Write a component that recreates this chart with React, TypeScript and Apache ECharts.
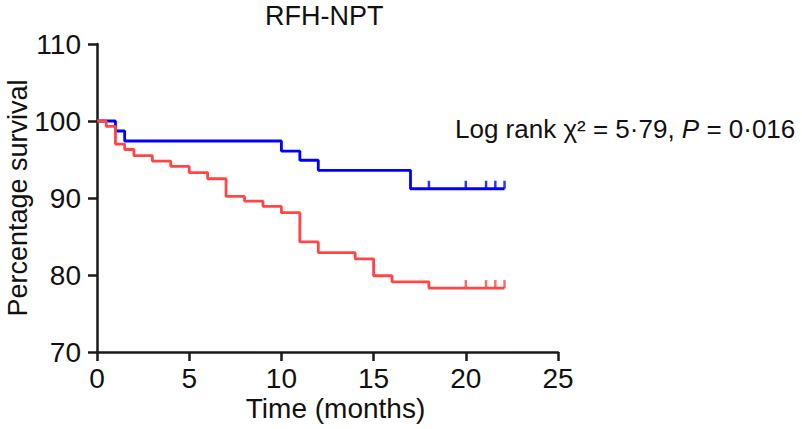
import React, { useEffect, useRef } from "react";
import * as echarts from "echarts";

const titleText = "RFH-NPT";
const xAxisName = "Time (months)";
const yAxisName = "Percentage survival";

const xTicks = [0, 5, 10, 15, 20, 25];
const yTicks = [70, 80, 90, 100, 110];

const blueTimes = [0, 1, 1.5, 10, 11, 12, 17, 22.1];
const blueSurv = [100, 98.7, 97.4, 96.1, 94.9, 93.6, 91.2, 91.2];
const blueCensorTimes = [18, 20, 21.1, 21.6, 22.1];
const blueCensorSurv = [91.2, 91.2, 91.2, 91.2, 91.2];

const redTimes = [0, 0.5, 1, 1.5, 2, 3, 4, 5, 6, 7, 8, 9, 10, 11, 12, 14, 15, 16, 18, 22.1];
const redSurv = [100, 99.3, 97.0, 96.3, 95.5, 94.8, 94.1, 93.3, 92.5, 90.2, 89.6, 88.9, 88.1, 84.3, 82.9, 82.1, 79.9, 79.1, 78.3, 78.3];
const redCensorTimes = [20, 21.1, 21.6, 22.1];
const redCensorSurv = [78.3, 78.3, 78.3, 78.3];

const BLUE = "#0000FF";
const RED = "#FF4545";
const AXIS = "#1a1a1a";
const TEXT = "#111111";
const FONT = "'Liberation Sans', Arial, sans-serif";

const zip = (a: number[], b: number[]) => a.map((v, i) => [v, b[i]]);

export default function App() {
  const ref = useRef<HTMLDivElement>(null);
  useEffect(() => {
    if (!ref.current) return;
    const chart = echarts.init(ref.current, undefined, { renderer: "svg" });
    const censor = (name: string, data: number[][], color: string) => ({
      name,
      type: "scatter",
      data,
      symbol: "rect",
      symbolSize: [2.5, 8],
      symbolOffset: [0, -4],
      itemStyle: { color },
      silent: true,
      z: 3,
    });
    chart.setOption({
      animation: false,
      backgroundColor: "#ffffff",
      textStyle: { fontFamily: FONT },
      title: {
        text: titleText,
        left: 265,
        top: 1,
        padding: 0,
        textStyle: {
          fontFamily: FONT,
          fontSize: 27,
          lineHeight: 30,
          fontWeight: "normal",
          color: TEXT,
        },
      },
      grid: {
        left: 97,
        top: 44,
        width: 461,
        height: 308,
        containLabel: false,
        outerBoundsMode: "none",
      },
      xAxis: {
        type: "value",
        min: xTicks[0],
        max: xTicks[xTicks.length - 1],
        interval: 5,
        name: xAxisName,
        nameLocation: "middle",
        nameGap: 42,
        nameMoveOverlap: false,
        nameTextStyle: { fontFamily: FONT, fontSize: 28, color: TEXT, padding: [0, 0, 0, 16] },
        axisLine: { show: true, onZero: false, lineStyle: { color: AXIS, width: 2.5 } },
        axisTick: { show: true, inside: false, length: 9, lineStyle: { color: AXIS, width: 2.5 } },
        axisLabel: { fontFamily: FONT, fontSize: 28, color: TEXT, margin: 12 },
        splitLine: { show: false },
      },
      yAxis: {
        type: "value",
        min: yTicks[0],
        max: yTicks[yTicks.length - 1],
        interval: 10,
        name: yAxisName,
        nameLocation: "middle",
        nameGap: 66,
        nameMoveOverlap: false,
        nameTextStyle: { fontFamily: FONT, fontSize: 27, lineHeight: 27, color: TEXT },
        axisLine: { show: true, lineStyle: { color: AXIS, width: 2.5 } },
        axisTick: { show: true, inside: false, length: 9, lineStyle: { color: AXIS, width: 2.5 } },
        axisLabel: { fontFamily: FONT, fontSize: 28, color: TEXT, margin: 16 },
        splitLine: { show: false },
      },
      graphic: [
        {
          type: "text",
          left: 455,
          top: 116,
          style: {
            text: "{n|Log rank χ² = 5·79, }{i|P}{n| = 0·016}",
            rich: {
              n: { fontFamily: FONT, fontSize: 26, fill: TEXT },
              i: { fontFamily: FONT, fontSize: 26, fontStyle: "italic", fill: TEXT },
            },
          },
        },
      ],
      series: [
        {
          name: "Group A",
          type: "line",
          step: "end",
          data: zip(blueTimes, blueSurv),
          showSymbol: false,
          lineStyle: { color: BLUE, width: 2.8 },
          itemStyle: { color: BLUE },
          z: 2,
        },
        {
          name: "Group B",
          type: "line",
          step: "end",
          data: zip(redTimes, redSurv),
          showSymbol: false,
          lineStyle: { color: RED, width: 2.8 },
          itemStyle: { color: RED },
          z: 2,
        },
        censor("Group A censored", zip(blueCensorTimes, blueCensorSurv), BLUE),
        censor("Group B censored", zip(redCensorTimes, redCensorSurv), RED),
      ],
    });
    return () => chart.dispose();
  }, []);
  return (
    <div
      ref={ref}
      style={{ position: "absolute", left: 0, top: 0, width: 802, height: 429 }}
    />
  );
}
